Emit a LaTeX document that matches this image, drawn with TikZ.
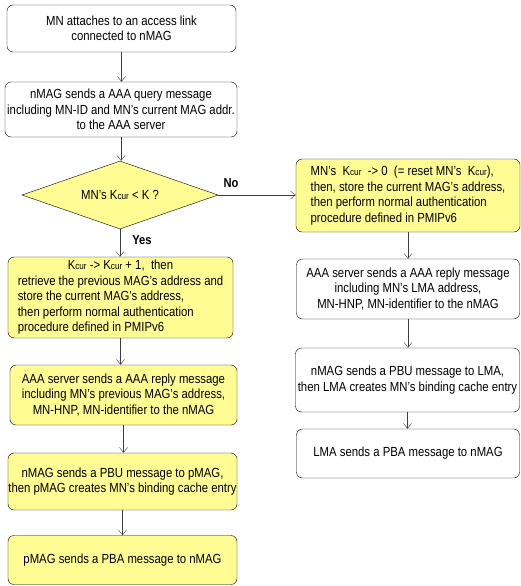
\documentclass[tikz,border=0pt]{standalone}
\usepackage{fontspec}
\setmainfont{Liberation Sans}[FakeStretch=0.86]
\usepackage{tikz}
\usetikzlibrary{arrows.meta, shapes.geometric, positioning, calc}
\definecolor{flowyellow}{RGB}{255, 252, 148}
\definecolor{flowline}{RGB}{60, 60, 70}
\newcommand{\Kcur}{K{\fontsize{9.5}{9.5}\selectfont cur}}

\begin{document}
\begin{tikzpicture}[x=1pt, y=-1pt,
	stepbox/.style={draw=black, rounded corners=6pt, inner sep=1pt,
		font=\fontsize{13.2}{15.5}\selectfont},
	hibox/.style={stepbox, fill=flowyellow},
	decide/.style={diamond, draw=black, fill=flowyellow, aspect=2.9, inner sep=0pt,
		minimum width=196pt, minimum height=68pt, font=\fontsize{13.2}{15.5}\selectfont},
	flow/.style={draw=flowline, -{Straight Barb[length=5pt, width=8pt]}},
	branch/.style={font=\fontsize{13}{14}\selectfont\bfseries}
]
	\useasboundingbox (0,0) rectangle (521,586);
	\node[stepbox, minimum width=229pt, minimum height=47pt, align=center] (attach) at (121.5,28.5)
		{MN attaches to an access link\\connected to nMAG};
	\node[stepbox, minimum width=232pt, minimum height=55pt, align=center, inner sep=0pt] (query) at (121,109.5)
		{nMAG sends a AAA query message\\including MN-ID and MN's current MAG addr.\\to the AAA server};
	\node[decide] (check) at (120,195) {MN's \Kcur{} < K ?};
	\node[hibox, minimum width=225pt, minimum height=81pt, align=left] (retrieve) at (120.5,297.5)
		{\hspace*{50pt}\Kcur{} -{}> \Kcur{} + 1,\ \ then\\
		retrieve the previous MAG's address and\\
		store the current MAG's address,\\
		then perform normal authentication\\
		procedure defined in PMIPv6};
	\node[hibox, minimum width=227pt, minimum height=60pt, align=center] (replyL) at (123.5,395)
		{AAA server sends a AAA reply message\\including MN's previous MAG's address,\\MN-HNP, MN-identifier to the nMAG};
	\node[hibox, minimum width=229pt, minimum height=57pt, align=center, inner sep=0pt] (pbuL) at (122.5,481.5)
		{nMAG sends a PBU message to pMAG,\\then pMAG creates MN's binding cache entry};
	\node[hibox, minimum width=229pt, minimum height=49pt] (pbaL) at (122.5,560)
		{pMAG sends a PBA message to nMAG};
	\node[hibox, minimum width=224pt, minimum height=73pt, align=left] (reset) at (408,195.5)
		{MN's\ \ \Kcur\ \ -{}> 0\ \ (= reset MN's\ \ \Kcur),\\
		then, store the current MAG's address,\\
		then perform normal authentication\\
		procedure defined in PMIPv6};
	\node[stepbox, minimum width=223pt, minimum height=60pt, align=center] (replyR) at (408,289)
		{AAA server sends a AAA reply message\\including MN's LMA address,\\MN-HNP, MN-identifier to the nMAG};
	\node[stepbox, minimum width=224pt, minimum height=64pt, align=center, inner sep=0pt] (pbuR) at (407.5,380)
		{nMAG sends a PBU message to LMA,\\then LMA creates MN's binding cache entry};
	\node[stepbox, minimum width=223pt, minimum height=49pt] (pbaR) at (408,453.5)
		{LMA sends a PBA message to nMAG};

	\draw[flow] (attach.south) -- (attach.south |- query.north);
	\draw[flow] (query.south) -- (query.south |- check.north);
	\draw[flow] (check.east) -- (check.east -| reset.west);
	\draw[flow] (check.south) -- (check.south |- retrieve.north);
	\draw[flow] (retrieve.south) -- (retrieve.south |- replyL.north);
	\draw[flow] (replyL.south) -- (replyL.south |- pbuL.north);
	\draw[flow] (pbuL.south) -- (pbuL.south |- pbaL.north);
	\draw[flow] (reset.south) -- (reset.south |- replyR.north);
	\draw[flow] (replyR.south) -- (replyR.south |- pbuR.north);
	\draw[flow] (pbuR.south) -- (pbuR.south |- pbaR.north);
	\node[branch] (nolabel) at (231,183) {No};
	\node[branch] (yeslabel) at (142,240) {Yes};
\end{tikzpicture}
\end{document}
